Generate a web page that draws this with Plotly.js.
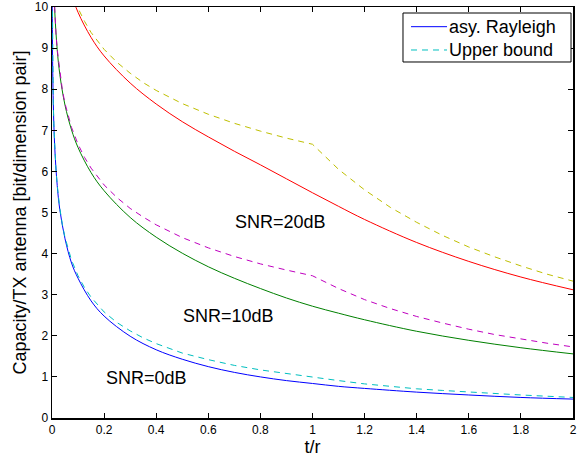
<!DOCTYPE html>
<html>
<head>
<meta charset="utf-8">
<script src="https://cdn.plot.ly/plotly-3.0.1.min.js"></script>
<style>html,body{margin:0;padding:0;background:#fff;}#chart{width:577px;height:460px;}</style>
</head>
<body>
<div id="chart"></div>
<script>
// x = t/r for the asymptotic Rayleigh curves
const xAsy = [0.0005, 0.001, 0.002, 0.003, 0.005, 0.01, 0.02, 0.03, 0.05, 0.075, 0.1, 0.15, 0.2, 0.3, 0.4, 0.5, 0.6, 0.7, 0.8, 0.9, 1.0, 1.1, 1.2, 1.4, 1.6, 1.8, 2.0];
const asy0dB  = [10.97, 9.97, 8.97, 8.39, 7.65, 6.65, 5.66, 5.07, 4.36, 3.77, 3.40, 2.85, 2.48, 1.99, 1.66, 1.43, 1.25, 1.11, 1.00, 0.91, 0.84, 0.77, 0.72, 0.63, 0.56, 0.50, 0.46];
const asy10dB = [14.29, 13.29, 12.29, 11.70, 10.95, 9.97, 8.96, 8.36, 7.61, 7.01, 6.58, 5.97, 5.53, 4.88, 4.40, 4.01, 3.68, 3.40, 3.15, 2.92, 2.72, 2.55, 2.39, 2.11, 1.89, 1.71, 1.56];
const asy20dB = [17.6, 16.6, 15.6, 15.0, 14.3, 13.3, 12.3, 11.7, 10.91, 10.31, 9.87, 9.26, 8.81, 8.15, 7.64, 7.21, 6.84, 6.49, 6.16, 5.82, 5.48, 5.15, 4.83, 4.27, 3.81, 3.43, 3.12];

// x = t/r for the upper bounds
const xUb = [0.0005, 0.001, 0.002, 0.003, 0.005, 0.0075, 0.01, 0.015, 0.02, 0.03, 0.04, 0.05, 0.075, 0.1, 0.125, 0.15, 0.2, 0.25, 0.3, 0.35, 0.4, 0.5, 0.6, 0.7, 0.8, 0.9, 1.0, 1.1, 1.2, 1.3, 1.4, 1.5, 1.6, 1.7, 1.8, 1.9, 2.0];
const ub0dB  = [10.97, 9.97, 8.97, 8.39, 7.65, 7.07, 6.66, 6.08, 5.67, 5.10, 4.70, 4.39, 3.84, 3.46, 3.17, 2.94, 2.58, 2.32, 2.12, 1.95, 1.81, 1.58, 1.42, 1.28, 1.17, 1.08, 1.00, 0.91, 0.83, 0.77, 0.71, 0.67, 0.63, 0.59, 0.56, 0.53, 0.50];
const ub10dB = [14.29, 13.29, 12.29, 11.70, 10.97, 10.38, 9.97, 9.38, 8.97, 8.39, 7.97, 7.65, 7.07, 6.66, 6.34, 6.08, 5.67, 5.36, 5.10, 4.89, 4.70, 4.39, 4.14, 3.93, 3.75, 3.60, 3.46, 3.15, 2.88, 2.66, 2.47, 2.31, 2.16, 2.03, 1.92, 1.82, 1.73];
const ub20dB = [17.6, 16.6, 15.6, 15.02, 14.29, 13.7, 13.29, 12.70, 12.29, 11.70, 11.29, 10.97, 10.38, 9.97, 9.65, 9.38, 8.97, 8.65, 8.39, 8.16, 7.97, 7.65, 7.39, 7.17, 6.98, 6.81, 6.66, 6.05, 5.55, 5.12, 4.76, 4.44, 4.16, 3.92, 3.70, 3.50, 3.33];

const xTicks = [0, 0.2, 0.4, 0.6, 0.8, 1, 1.2, 1.4, 1.6, 1.8, 2];
const yTicks = [0, 1, 2, 3, 4, 5, 6, 7, 8, 9, 10];
const snrLabels = ["SNR=20dB", "SNR=10dB", "SNR=0dB"];
const snrLabelX = [0.879, 0.679, 0.361];
const snrLabelY = [4.77, 2.47, 0.98];
const legendNames = ["asy. Rayleigh", "Upper bound"];

const FONT = '"Liberation Sans", Arial, Helvetica, sans-serif';
const dashed = '6px,5px';
const C_BLUE = '#0000FF', C_CYAN = '#00BFBF';

function asyTrace(y, color, name) {
  return {x: xAsy, y: y, type: 'scatter', mode: 'lines', name: name, showlegend: false,
    line: {color: color, width: 1, shape: 'spline', smoothing: 1}, hoverinfo: 'skip'};
}
function ubTrace(y, color, name) {
  return {x: xUb, y: y, type: 'scatter', mode: 'lines', name: name, showlegend: false,
    line: {color: color, width: 1, dash: dashed}, hoverinfo: 'skip'};
}

const data = [
  asyTrace(asy0dB, C_BLUE, legendNames[0]),
  ubTrace(ub0dB, C_CYAN, legendNames[1]),
  asyTrace(asy10dB, '#008000', 'asy. Rayleigh 10dB'),
  ubTrace(ub10dB, '#BF00BF', 'Upper bound 10dB'),
  asyTrace(asy20dB, '#FF0000', 'asy. Rayleigh 20dB'),
  ubTrace(ub20dB, '#BFBF00', 'Upper bound 20dB')
];

const axisCommon = {
  showline: true, linecolor: '#000', linewidth: 1.5, mirror: 'ticks',
  ticks: 'inside', ticklen: 5, tickwidth: 1, tickcolor: '#000',
  showgrid: false, zeroline: false, ticklabeloverflow: 'allow',
  tickfont: {family: FONT, size: 12, color: '#000'}
};

// legend box drawn in paper coordinates (MATLAB-style legend)
const legBox = {x0: 0.6737, x1: 0.9962, y0: 0.8662, y1: 0.9854};
const legRowY = [0.9521, 0.8954];
const legLineX = [0.6891, 0.7582];
const legTextX = 0.7590;

const shapes = [
  {type: 'rect', xref: 'paper', yref: 'paper', x0: legBox.x0, x1: legBox.x1, y0: legBox.y0, y1: legBox.y1,
   line: {color: '#000', width: 1}, fillcolor: '#fff', layer: 'above'},
  {type: 'line', xref: 'paper', yref: 'paper', x0: legLineX[0], x1: legLineX[1], y0: legRowY[0], y1: legRowY[0],
   line: {color: C_BLUE, width: 1}, layer: 'above'},
  {type: 'line', xref: 'paper', yref: 'paper', x0: legLineX[0], x1: legLineX[1], y0: legRowY[1], y1: legRowY[1],
   line: {color: C_CYAN, width: 1, dash: dashed}, layer: 'above'}
];

const annotations = snrLabels.map((t, i) => ({
  x: snrLabelX[i], y: snrLabelY[i], xref: 'x', yref: 'y', text: t, showarrow: false,
  font: {family: FONT, size: 18, color: '#000'}, xanchor: 'center', yanchor: 'middle'
})).concat(legendNames.map((t, i) => ({
  x: legTextX, y: legRowY[i], xref: 'paper', yref: 'paper', text: t, showarrow: false,
  font: {family: FONT, size: 18, color: '#000'}, xanchor: 'left', yanchor: 'middle'
})));

const layout = {
  width: 577, height: 460,
  margin: {l: 52, r: 4, t: 7, b: 42},
  paper_bgcolor: '#fff', plot_bgcolor: '#fff',
  font: {family: FONT, color: '#000'},
  showlegend: false,
  xaxis: Object.assign({}, axisCommon, {
    range: [0, 2], tickvals: xTicks, ticktext: xTicks.map(String),
    title: {text: 't/r', font: {family: FONT, size: 18, color: '#000'}, standoff: 3}
  }),
  yaxis: Object.assign({}, axisCommon, {
    range: [0, 10], tickvals: yTicks, ticktext: yTicks.map(String),
    title: {text: 'Capacity/TX antenna [bit/dimension pair]', font: {family: FONT, size: 18, color: '#000'}, standoff: 3}
  }),
  shapes: shapes,
  annotations: annotations
};

Plotly.newPlot('chart', data, layout, {staticPlot: true, displayModeBar: false});
</script>
</body>
</html>
